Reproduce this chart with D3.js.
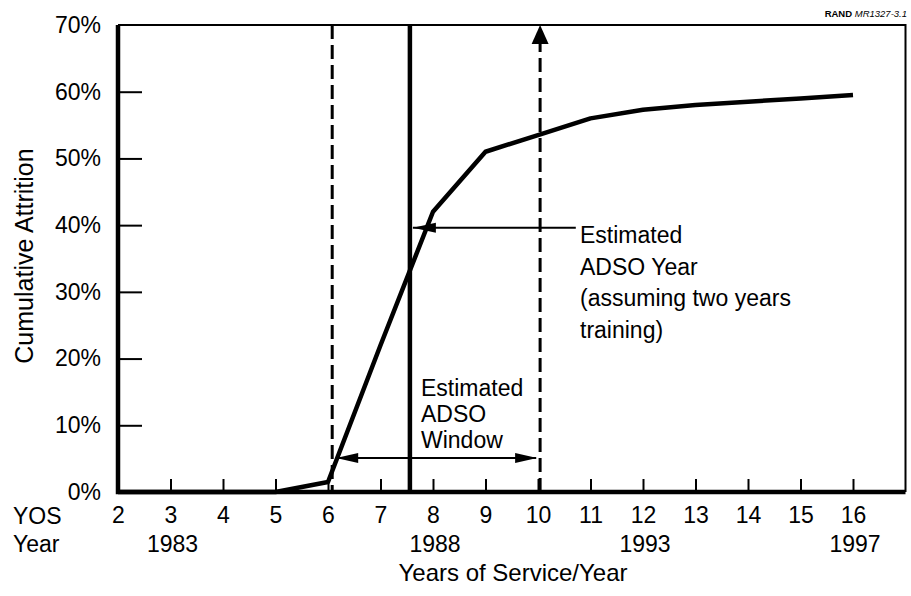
<!DOCTYPE html>
<html>
<head>
<meta charset="utf-8">
<script src="https://cdn.jsdelivr.net/npm/d3@7"></script>
<style>
  body { margin: 0; background: #fff; }
  svg { display: block; font-family: "Liberation Sans", Arial, sans-serif; }
</style>
</head>
<body>
<div id="chart"></div>
<script>
// data
const yos = [2, 3, 4, 5, 6, 7, 8, 9, 10, 11, 12, 13, 14, 15, 16];
const attrition = [0, 0, 0, 0, 1.5, 22, 42, 51, 53.5, 56, 57.3, 58, 58.5, 59, 59.5];
const yTicks = [0, 10, 20, 30, 40, 50, 60, 70];
const yearLabels = [{yos: 3, label: "1983"}, {yos: 8, label: "1988"}, {yos: 12, label: "1993"}, {yos: 16, label: "1997"}];
const windowStart = 6.08, adsoYear = 7.56, windowEnd = 10.04;
const windowArrowLevel = 5.1, yearArrowLevel = 39.6, yearArrowEnd = 10.72;

const W = 911, H = 596;
const plot = {left: 118, top: 25, right: 905.5, bottom: 492};

const svg = d3.select("#chart").append("svg")
  .attr("width", W).attr("height", H);

const x = d3.scaleLinear().domain([2, 17]).range([plot.left, plot.right]);
const y = d3.scaleLinear().domain([0, 70]).range([plot.bottom, plot.top]);

const fs = 23;

// frame: thin top/right
svg.append("path")
  .attr("d", `M${plot.left},${plot.top}H${plot.right}V${plot.bottom}`)
  .attr("fill", "none").attr("stroke", "#000").attr("stroke-width", 2);

// y axis
const yAxis = svg.append("g")
  .attr("transform", `translate(${plot.left},0)`)
  .call(d3.axisLeft(y).tickValues(yTicks).tickSize(-24).tickPadding(17).tickFormat(d => d + "%"));
yAxis.select(".domain").remove();
yAxis.selectAll(".tick line").attr("stroke-width", 2)
  .filter(d => d === 0 || d === 70).remove();
yAxis.selectAll("text").attr("font-size", fs).attr("font-family", "Liberation Sans, Arial, sans-serif").attr("fill", "#000");

// x axis
const xAxis = svg.append("g")
  .attr("transform", `translate(0,${plot.bottom})`)
  .call(d3.axisBottom(x).tickValues(yos).tickSize(-13).tickPadding(15).tickFormat(d3.format("d")));
xAxis.select(".domain").remove();
xAxis.selectAll(".tick line").attr("stroke-width", 2)
  .filter(d => d === 2).remove();
xAxis.selectAll("text").attr("font-size", fs).attr("font-family", "Liberation Sans, Arial, sans-serif").attr("fill", "#000");

// heavy left and bottom axis lines
svg.append("path")
  .attr("d", `M${plot.left},${plot.top}V${plot.bottom}H${plot.right}`)
  .attr("fill", "none").attr("stroke", "#000").attr("stroke-width", 4.5);

// year labels
svg.append("g").selectAll("text")
  .data(yearLabels)
  .join("text")
  .attr("x", d => x(d.yos) + 2)
  .attr("y", 552)
  .attr("text-anchor", "middle")
  .attr("font-size", fs)
  .text(d => d.label);

svg.append("text").attr("x", 13).attr("y", 524).attr("font-size", fs).text("YOS");
svg.append("text").attr("x", 13).attr("y", 552).attr("font-size", fs).text("Year");

// axis titles
svg.append("text")
  .attr("x", 513).attr("y", 581)
  .attr("text-anchor", "middle").attr("font-size", 24)
  .text("Years of Service/Year");

svg.append("text")
  .attr("transform", `translate(33,256) rotate(-90)`)
  .attr("text-anchor", "middle").attr("font-size", 25)
  .text("Cumulative Attrition");

// source tag
const tag = svg.append("text").attr("x", 907).attr("y", 17)
  .attr("text-anchor", "end").attr("font-size", 9.5);
tag.append("tspan").attr("font-weight", "bold").text("RAND ");
tag.append("tspan").attr("font-style", "italic").text("MR1327-3.1");

// vertical marker lines
svg.append("line")
  .attr("x1", x(windowStart)).attr("x2", x(windowStart))
  .attr("y1", y(70)).attr("y2", y(0))
  .attr("stroke", "#000").attr("stroke-width", 3).attr("stroke-dasharray", "14,6");

svg.append("line")
  .attr("x1", x(adsoYear)).attr("x2", x(adsoYear))
  .attr("y1", y(70)).attr("y2", y(0))
  .attr("stroke", "#000").attr("stroke-width", 4.5);

svg.append("line")
  .attr("x1", x(windowEnd)).attr("x2", x(windowEnd))
  .attr("y1", y(0)).attr("y2", y(70) + 16)
  .attr("stroke", "#000").attr("stroke-width", 3).attr("stroke-dasharray", "14,6");

// arrow head helper: tip at (tx,ty), direction angle in degrees
function head(tx, ty, angle, len, half) {
  const a = angle * Math.PI / 180;
  const bx = tx - len * Math.cos(a), by = ty - len * Math.sin(a);
  const px = -Math.sin(a) * half, py = Math.cos(a) * half;
  svg.append("path")
    .attr("d", `M${tx},${ty}L${bx + px},${by + py}L${bx - px},${by - py}Z`)
    .attr("fill", "#000");
}

head(x(windowEnd), y(70), -90, 19, 8.5);

// curve
const line = d3.line()
  .x((d, i) => x(yos[i]))
  .y(d => y(d));

svg.append("path")
  .datum(attrition)
  .attr("d", line)
  .attr("fill", "none")
  .attr("stroke", "#000")
  .attr("stroke-width", 4.5)
  .attr("stroke-linejoin", "round");

// ADSO window double arrow
const wy = y(windowArrowLevel);
svg.append("line")
  .attr("x1", x(windowStart) + 4).attr("x2", x(windowEnd) - 4)
  .attr("y1", wy).attr("y2", wy)
  .attr("stroke", "#000").attr("stroke-width", 2);
head(x(windowStart) + 4, wy, 180, 22, 5);
head(x(windowEnd) - 3, wy, 0, 22, 5);

// ADSO year arrow
const ay = y(yearArrowLevel);
svg.append("line")
  .attr("x1", x(adsoYear) + 3).attr("x2", x(yearArrowEnd))
  .attr("y1", ay).attr("y2", ay)
  .attr("stroke", "#000").attr("stroke-width", 2);
head(x(adsoYear) + 3, ay, 180, 23, 5);

// annotation texts
const note1 = ["Estimated", "ADSO Year", "(assuming two years", "training)"];
svg.append("g").selectAll("text")
  .data(note1)
  .join("text")
  .attr("x", 580)
  .attr("y", (d, i) => 243 + i * 31.5)
  .attr("font-size", fs)
  .text(d => d);

const note2 = ["Estimated", "ADSO", "Window"];
svg.append("g").selectAll("text")
  .data(note2)
  .join("text")
  .attr("x", 421)
  .attr("y", (d, i) => 396 + i * 26)
  .attr("font-size", fs)
  .text(d => d);
</script>
</body>
</html>
